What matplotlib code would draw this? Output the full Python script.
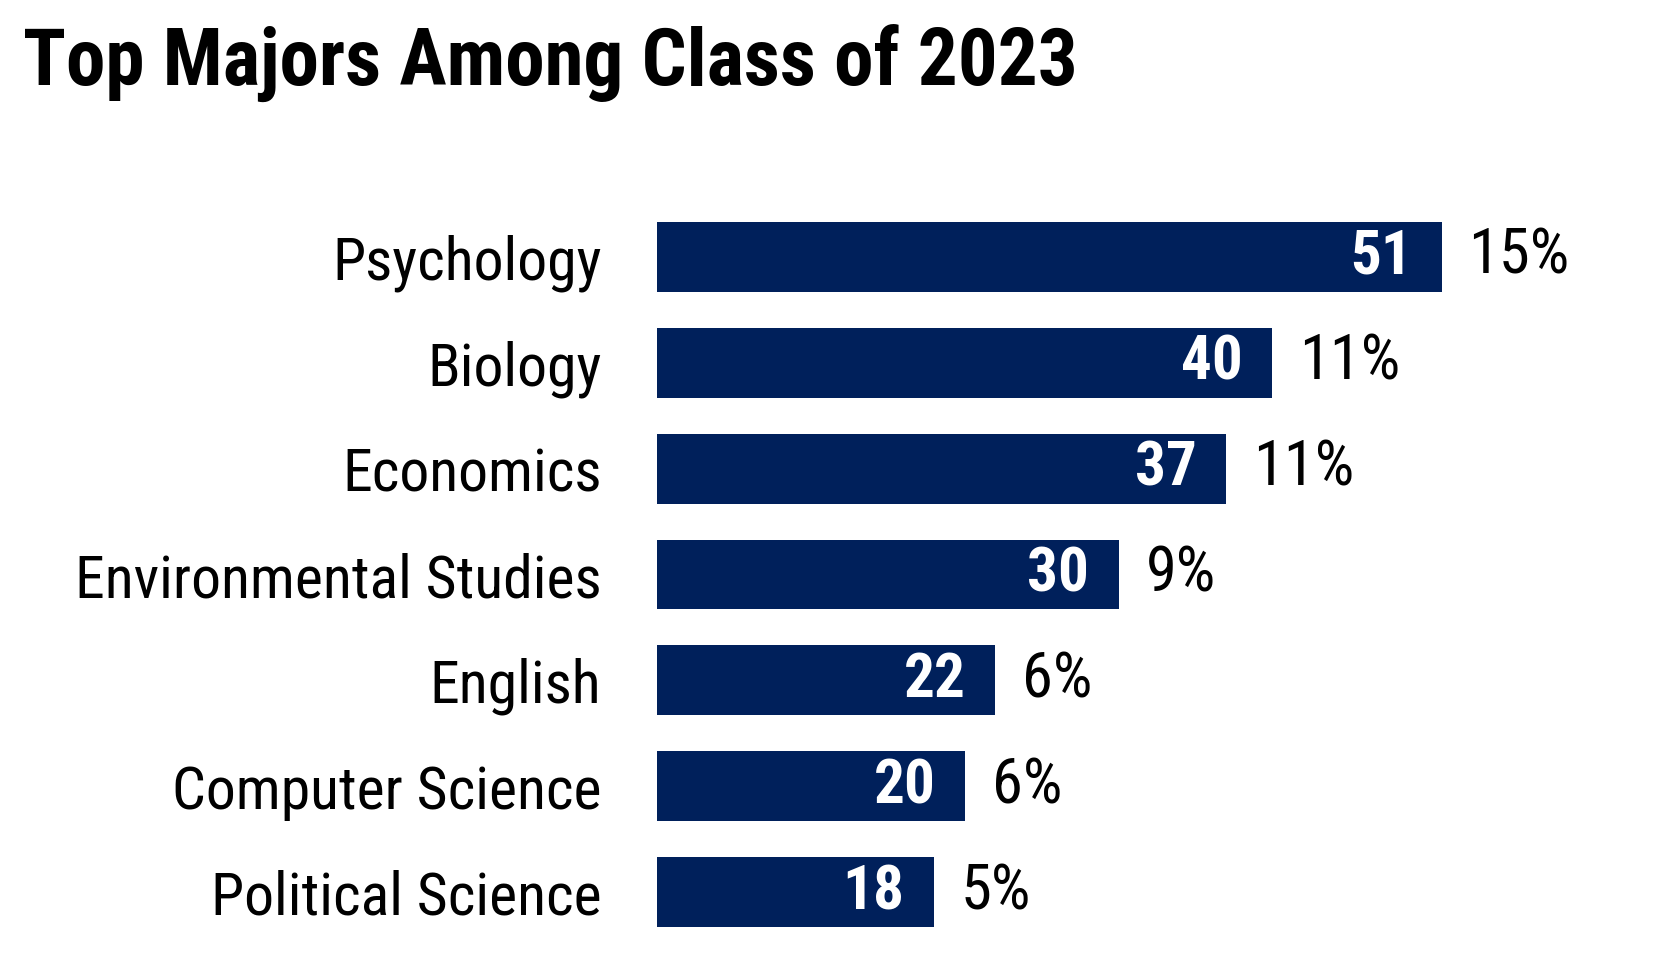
import matplotlib
matplotlib.use("Agg")
import matplotlib.pyplot as plt

majors = ["Psychology", "Biology", "Economics", "Environmental Studies",
          "English", "Computer Science", "Political Science"]
counts = [51, 40, 37, 30, 22, 20, 18]
shares = ["15%", "11%", "11%", "9%", "6%", "6%", "5%"]

plt.rcParams['font.family'] = ['Roboto Condensed', 'DejaVu Sans']

W, H = 1659, 975
fig = plt.figure(figsize=(W / 100, H / 100), dpi=100)
ax = fig.add_axes([657 / W, 30 / H, 923 / W, 741 / H])

navy = "#00205b"
y = list(range(len(majors)))
ax.barh(y, counts, height=0.66, color=navy)
ax.set_xlim(0, 60)
ax.set_ylim(len(majors) - 0.5, -0.5)

for i, (c, s) in enumerate(zip(counts, shares)):
    ax.text(c - 1.9, i, str(c), ha='right', va='center', color='white',
            fontsize=44, fontweight='bold')
    ax.text(c + 1.75, i, s, ha='left', va='center', color='black', fontsize=45)

ax.set_yticks(y)
ax.set_yticklabels(majors, fontsize=43)
ax.tick_params(axis='y', length=0, pad=40)
ax.set_xticks([])
for sp in ax.spines.values():
    sp.set_visible(False)

fig.text(23 / W, 1 - 85 / H, "Top Majors Among Class of 2023", fontsize=57,
         fontweight='bold', ha='left', va='baseline')

fig.savefig("out.png", dpi=100)
